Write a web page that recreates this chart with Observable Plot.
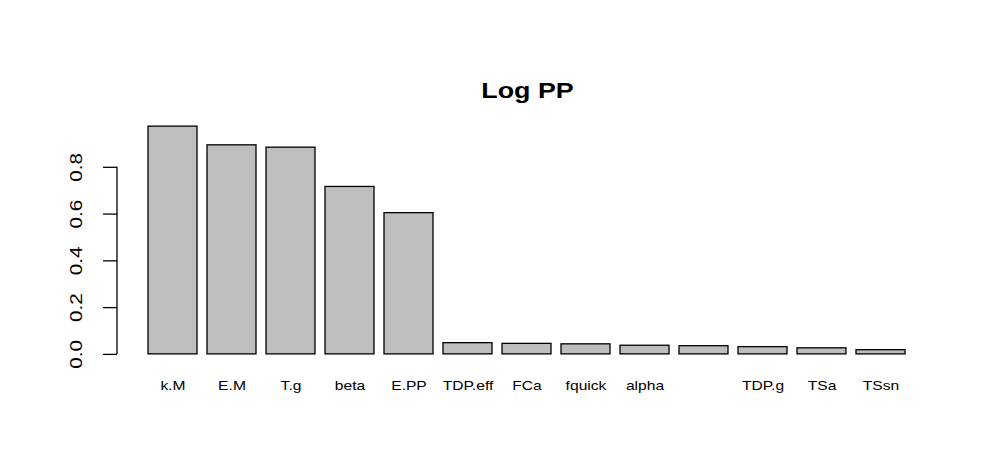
<!DOCTYPE html>
<html>
<head>
<meta charset="utf-8">
<script src="https://cdn.jsdelivr.net/npm/d3@7"></script>
<script src="https://cdn.jsdelivr.net/npm/@observablehq/plot@0.6"></script>
<style>
  html, body { margin: 0; padding: 0; background: #fff; }
  #chart svg { display: block; }
</style>
</head>
<body>
<div id="chart"></div>
<script>
const title = "Log PP";
const names = ["k.M", "E.M", "T.g", "beta", "E.PP", "TDP.eff", "FCa", "fquick", "alpha", "", "TDP.g", "TSa", "TSsn"];
const values = [0.974, 0.894, 0.884, 0.716, 0.604, 0.048, 0.045, 0.043, 0.037, 0.035, 0.031, 0.026, 0.018];
const yTicks = [0, 0.2, 0.4, 0.6, 0.8];

const data = names.map((n, i) => ({name: n, value: values[i]}));
const ymax = d3.max(values);

const chart = Plot.plot({
  width: 997,
  height: 449,
  marginLeft: 117,
  marginRight: 60,
  marginTop: 117,
  marginBottom: 86,
  style: {fontFamily: "'Liberation Sans', Arial, sans-serif", background: "#fff", color: "#000"},
  x: {domain: names, paddingInner: 1/6, paddingOuter: 0.5125, align: 0.5, axis: null, label: null},
  y: {domain: [-0.04 * ymax, 1.04 * ymax], axis: null, label: null},
  marks: [
    Plot.barY(data, {x: "name", y: "value", fill: "#bebebe", stroke: "#000", strokeWidth: 1.3}),
    Plot.axisX({tickSize: 0, tickPadding: 0, fontSize: 13, dy: 17, label: null}),
    Plot.axisY({ticks: yTicks, tickSize: 14, tickFormat: d3.format(".1f"), tickRotate: -90, fontSize: 17, tickPadding: 22, strokeWidth: 1.3, label: null}),
    Plot.text([title], {frameAnchor: "top", lineAnchor: "bottom", dy: -20, fontSize: 22, fontWeight: "bold"})
  ]
});

// axis line between first and last tick, as R draws it
const ys = chart.scale("y");
const yLo = ys.apply(yTicks[0]);
const yHi = ys.apply(yTicks[yTicks.length - 1]);
d3.select(chart).append("line")
  .attr("x1", 117).attr("x2", 117)
  .attr("y1", yLo).attr("y2", yHi)
  .attr("stroke", "#000").attr("stroke-width", 1.3);

document.getElementById("chart").appendChild(chart);

// stretch glyphs slightly along the text direction, as in the reference raster
function stretch(sel, f) {
  d3.select(chart).selectAll(sel).each(function () {
    const len = this.getComputedTextLength();
    if (len > 0) {
      this.setAttribute("textLength", (len * f).toFixed(1));
      this.setAttribute("lengthAdjust", "spacingAndGlyphs");
    }
  });
}
stretch('g[aria-label="x-axis tick label"] text', 1.2);
stretch('g[aria-label="y-axis tick label"] text', 1.22);
stretch('g[aria-label="text"] text', 1.22);
</script>
</body>
</html>
